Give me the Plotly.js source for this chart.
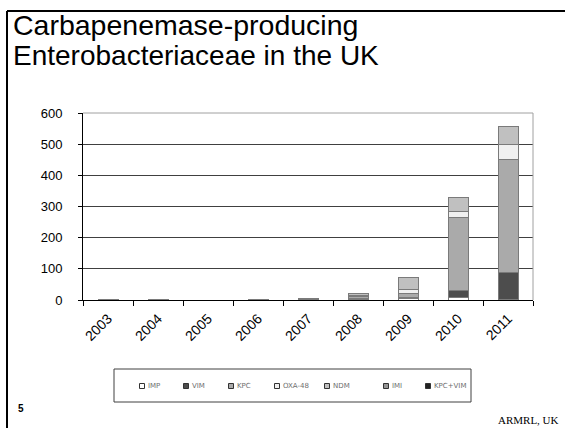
<!DOCTYPE html>
<html>
<head>
<meta charset="utf-8">
<script src="https://cdn.plot.ly/plotly-3.0.1.min.js"></script>
<style>html,body{margin:0;padding:0;background:#fff;}#chart{width:565px;height:428px;}</style>
</head>
<body>
<div id="chart"></div>
<script>
// ---- data ----
var years  = ['2003','2004','2005','2006','2007','2008','2009','2010','2011'];
var seriesNames = ['IMP','VIM','KPC','OXA-48','NDM','IMI','KPC+VIM'];
var IMP    = [0, 0, 0, 0, 1, 2, 5,   7,   1];
var VIM    = [3, 1, 0, 3, 3, 3, 3,  25,  87];
var KPC    = [0, 0, 0, 0, 0, 5, 14, 234, 364];
var OXA48  = [0, 0, 0, 0, 0, 5, 13,  19,  48];
var NDM    = [0, 0, 0, 0, 0, 6, 36,  43,  56];
var IMI    = [0, 0, 0, 0, 0, 0, 0,   0,   0];
var KPCVIM = [0, 0, 0, 0, 0, 0, 0,   2,   2];
var yTicks = [0, 100, 200, 300, 400, 500, 600];

// ---- styling ----
var colors = ['#ffffff','#4d4d4d','#aaaaaa','#f0f0f0','#c0c0c0','#969696','#222222'];
var values = [IMP, VIM, KPC, OXA48, NDM, IMI, KPCVIM];

var W = 565, H = 428;
var L = 83, R = 533, T = 113, B = 300;
function px(x){ return (x - L) / (R - L); }
function py(y){ return (B - y) / (B - T); }

var traces = seriesNames.map(function(n, i){
  return {
    type: 'bar', name: n, x: years,
    y: values[i].map(function(v){ return v === 0 ? null : v; }),
    marker: {color: colors[i], line: {color: '#7a7a7a', width: 1}},
    showlegend: false, hoverinfo: 'x+y+name'
  };
});

var shapes = [
  // slide frame
  {type:'line', xref:'paper', yref:'paper', x0:px(7), x1:px(566), y0:py(11), y1:py(11), line:{color:'#000', width:2}},
  {type:'line', xref:'paper', yref:'paper', x0:px(7), x1:px(7), y0:py(11), y1:py(430), line:{color:'#000', width:2}},
  // plot area top / right border
  {type:'line', xref:'paper', yref:'paper', x0:0, x1:1, y0:1, y1:1, line:{color:'#a0a0a0', width:1}},
  {type:'line', xref:'paper', yref:'paper', x0:1, x1:1, y0:0, y1:1, line:{color:'#a0a0a0', width:1}},
  // legend box
  {type:'rect', xref:'paper', yref:'paper', x0:px(114), x1:px(471), y0:py(369), y1:py(402), line:{color:'#404040', width:1}, fillcolor:'rgba(0,0,0,0)'}
];

var annotations = [
  {xref:'paper', yref:'paper', x:px(11), y:py(25), xanchor:'left', yanchor:'middle', showarrow:false,
   text:'Carbapenemase-producing', font:{family:'Liberation Sans, Arial', size:28.5, color:'#000'}},
  {xref:'paper', yref:'paper', x:px(11), y:py(55), xanchor:'left', yanchor:'middle', showarrow:false,
   text:'Enterobacteriaceae in the UK', font:{family:'Liberation Sans, Arial', size:28, color:'#000'}},
  {xref:'paper', yref:'paper', x:px(21), y:py(408), xanchor:'center', yanchor:'middle', showarrow:false,
   text:'<b>5</b>', font:{family:'Liberation Sans, Arial', size:10, color:'#000'}},
  {xref:'paper', yref:'paper', x:px(528), y:py(420), xanchor:'center', yanchor:'middle', showarrow:false,
   text:'ARMRL, UK', font:{family:'Liberation Serif, Times New Roman', size:11, color:'#000'}}
];

// legend entries
var legendX = [142, 186, 231, 277, 327, 386, 428];
var legendY = 386;
seriesNames.forEach(function(n, i){
  var cx = legendX[i];
  shapes.push({type:'rect', xref:'paper', yref:'paper', x0:px(cx-2.5), x1:px(cx+2.5), y0:py(legendY-2.5), y1:py(legendY+2.5),
    line:{color:'#333', width:1}, fillcolor:colors[i]});
  annotations.push({xref:'paper', yref:'paper', x:px(cx+3.5), y:py(legendY), xanchor:'left', yanchor:'middle', showarrow:false,
    text:n, font:{family:'DejaVu Sans, Arial', size:7, color:'#6e6e6e'}});
});

var layout = {
  width: W, height: H,
  margin: {l: L, r: W - R, t: T, b: H - B, pad: 0},
  paper_bgcolor: '#fff', plot_bgcolor: '#fff',
  barmode: 'stack', bargap: 0.6,
  showlegend: false,
  font: {family: 'Liberation Sans, Arial', size: 13, color: '#000'},
  xaxis: {
    type: 'category', tickangle: -45, tickson: 'boundaries',
    ticks: 'outside', ticklen: 5, tickcolor: '#000', tickwidth: 1,
    showline: true, linecolor: '#000', linewidth: 1, ticklabelstandoff: 4,
    showgrid: false, tickfont: {size: 14, color: '#000'}, fixedrange: true
  },
  yaxis: {
    range: [0, 600], tickvals: yTicks, ticktext: yTicks.map(String),
    ticks: 'outside', ticklen: 4, tickcolor: '#000', ticklabelstandoff: 13,
    showline: true, linecolor: '#000', linewidth: 1,
    showgrid: true, gridcolor: '#404040', gridwidth: 1, zeroline: false,
    tickfont: {size: 13, color: '#000'}, fixedrange: true
  },
  shapes: shapes,
  annotations: annotations
};

Plotly.newPlot('chart', traces, layout, {displayModeBar: false, staticPlot: true});
</script>
</body>
</html>
